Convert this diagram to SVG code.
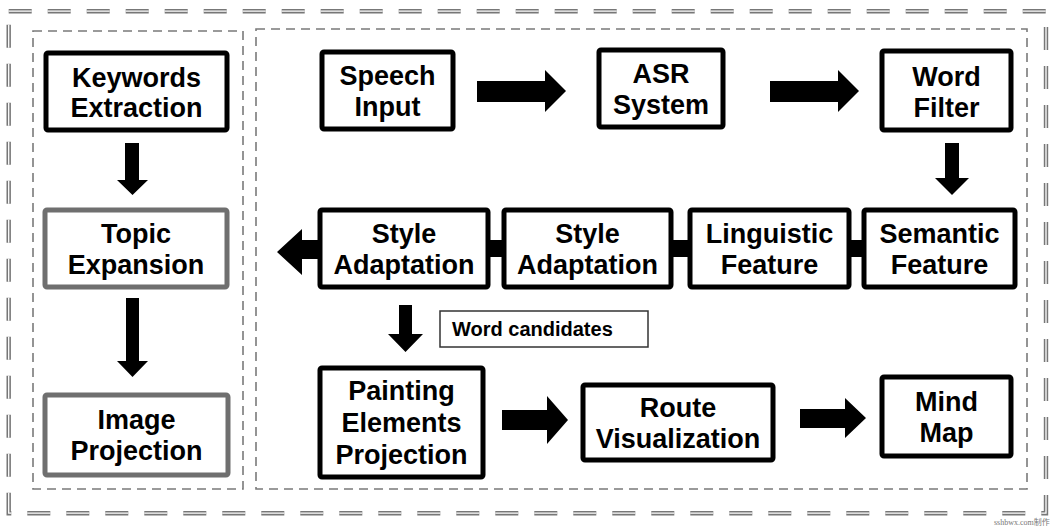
<svg xmlns="http://www.w3.org/2000/svg" width="1060" height="526" viewBox="0 0 1060 526">
  <style>
    .box { fill: #fff; stroke: #000; stroke-width: 5; stroke-linejoin: round; }
    .box-gray { fill: #fff; stroke: #6f6f6f; stroke-width: 5; stroke-linejoin: round; }
    .lbl { font-family: "Liberation Sans", Arial, sans-serif; font-weight: bold; font-size: 27px; fill: #000; text-anchor: middle; }
    .note { font-family: "Liberation Sans", Arial, sans-serif; font-weight: bold; font-size: 20px; fill: #000; }
    .arrow { fill: #000; }
    .region { fill: none; stroke: #7a7a7a; stroke-width: 1.6; stroke-dasharray: 9 6; }
  </style>

  <rect x="0" y="0" width="1060" height="526" fill="#fff"/>

  <!-- outer double dashed frame -->
  <g id="frame">
    <rect x="8.7" y="11.2" width="1037.3" height="502" fill="none" stroke="#777" stroke-width="4.4" stroke-dasharray="23 16"/>
    <rect x="8.7" y="11.2" width="1037.3" height="502" fill="none" stroke="#fff" stroke-width="1.3" stroke-dasharray="23 16"/>
  </g>

  <!-- dashed regions -->
  <g id="regions">
    <rect class="region" x="33" y="31" width="210" height="458"/>
    <rect class="region" x="256" y="29" width="771" height="460"/>
  </g>

  <!-- connectors -->
  <g id="connectors">
    <!-- left column -->
    <polygon class="arrow" points="125,143 139,143 139,180 148,180 132.5,195 117,180 125,180"/>
    <polygon class="arrow" points="126,298 139,298 139,361 148,361 132.5,377 117,361 126,361"/>
    <!-- top row -->
    <polygon class="arrow" points="477,81 545,81 545,70 566,91 545,112 545,102 477,102"/>
    <polygon class="arrow" points="770,81 838,81 838,70 859,91 838,112 838,102 770,102"/>
    <polygon class="arrow" points="945,143 959,143 959,178 969,178 952,195 935,178 945,178"/>
    <!-- feature chain links -->
    <rect class="arrow" x="488" y="240" width="16" height="17"/>
    <rect class="arrow" x="671" y="240" width="19" height="17"/>
    <rect class="arrow" x="849" y="240" width="15" height="17"/>
    <polygon class="arrow" points="318,240 302,240 302,229 277,252 302,275 302,259 318,259"/>
    <!-- down to painting -->
    <polygon class="arrow" points="399,305 412,305 412,334 423,334 405.5,352 388,334 399,334"/>
    <!-- bottom row -->
    <polygon class="arrow" points="502,410 547,410 547,396 568,420 547,444 547,430 502,430"/>
    <polygon class="arrow" points="800,409 845,409 845,398 866,418 845,438 845,428 800,428"/>
  </g>

  <!-- nodes -->
  <g id="keywords-extraction">
    <rect class="box" x="46" y="53" width="181" height="77" rx="2"/>
    <text class="lbl" x="136.5" y="87">Keywords</text>
    <text class="lbl" x="136.5" y="117">Extraction</text>
  </g>
  <g id="topic-expansion">
    <rect class="box-gray" x="45" y="210" width="182" height="77" rx="2"/>
    <text class="lbl" x="136" y="243">Topic</text>
    <text class="lbl" x="136" y="274">Expansion</text>
  </g>
  <g id="image-projection">
    <rect class="box-gray" x="45" y="395" width="183" height="80" rx="2"/>
    <text class="lbl" x="136.5" y="429">Image</text>
    <text class="lbl" x="136.5" y="460">Projection</text>
  </g>

  <g id="speech-input">
    <rect class="box" x="322" y="52" width="131" height="77" rx="2"/>
    <text class="lbl" x="387.5" y="85">Speech</text>
    <text class="lbl" x="387.5" y="116">Input</text>
  </g>
  <g id="asr-system">
    <rect class="box" x="599" y="50" width="124" height="77" rx="2"/>
    <text class="lbl" x="661" y="83">ASR</text>
    <text class="lbl" x="661" y="114">System</text>
  </g>
  <g id="word-filter">
    <rect class="box" x="882" y="51" width="129" height="79" rx="2"/>
    <text class="lbl" x="946.5" y="86">Word</text>
    <text class="lbl" x="946.5" y="117">Filter</text>
  </g>

  <g id="style-adaptation-1">
    <rect class="box" x="320" y="210" width="168" height="77" rx="2"/>
    <text class="lbl" x="404" y="243">Style</text>
    <text class="lbl" x="404" y="274">Adaptation</text>
  </g>
  <g id="style-adaptation-2">
    <rect class="box" x="504" y="210" width="167" height="77" rx="2"/>
    <text class="lbl" x="587.5" y="243">Style</text>
    <text class="lbl" x="587.5" y="274">Adaptation</text>
  </g>
  <g id="linguistic-feature">
    <rect class="box" x="690" y="210" width="159" height="77" rx="2"/>
    <text class="lbl" x="769.5" y="243">Linguistic</text>
    <text class="lbl" x="769.5" y="274">Feature</text>
  </g>
  <g id="semantic-feature">
    <rect class="box" x="864" y="210" width="151" height="77" rx="2"/>
    <text class="lbl" x="939.5" y="243">Semantic</text>
    <text class="lbl" x="939.5" y="274">Feature</text>
  </g>

  <g id="word-candidates">
    <rect x="440" y="311" width="208" height="36" fill="#fff" stroke="#333" stroke-width="1.5"/>
    <text class="note" x="452" y="336">Word candidates</text>
  </g>

  <g id="painting-elements-projection">
    <rect class="box" x="320" y="368" width="163" height="109" rx="2"/>
    <text class="lbl" x="401.5" y="400">Painting</text>
    <text class="lbl" x="401.5" y="432">Elements</text>
    <text class="lbl" x="401.5" y="464">Projection</text>
  </g>
  <g id="route-visualization">
    <rect class="box" x="583" y="385" width="190" height="75" rx="2"/>
    <text class="lbl" x="678" y="417">Route</text>
    <text class="lbl" x="678" y="448">Visualization</text>
  </g>
  <g id="mind-map">
    <rect class="box" x="882" y="377" width="129" height="79" rx="2"/>
    <text class="lbl" x="946.5" y="411">Mind</text>
    <text class="lbl" x="946.5" y="442">Map</text>
  </g>

  <text x="994" y="525" font-family="Liberation Serif, 'Noto Sans CJK SC', serif" font-size="8" fill="#777">sshbwx.com制作</text>
</svg>
